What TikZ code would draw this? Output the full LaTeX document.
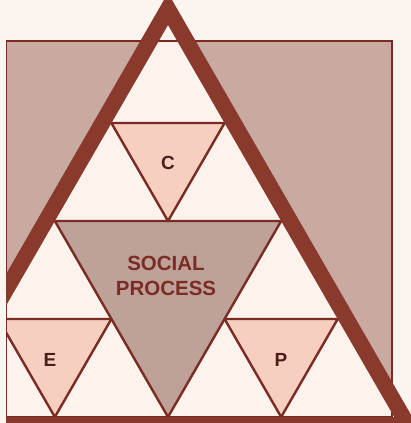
\documentclass[tikz,border=0pt]{standalone}
\usepackage{fontspec}
\newfontfamily\labfont{Liberation Sans}
\definecolor{pagebg}{HTML}{FCF4EE}
\definecolor{panel}{HTML}{C8AAA0}
\definecolor{core}{HTML}{BEA198}
\definecolor{pinkfill}{HTML}{F6CFC0}
\definecolor{creamfill}{HTML}{FDF3EC}
\definecolor{bandcol}{HTML}{8A392D}
\definecolor{thincol}{HTML}{7A2C22}
\definecolor{bigtext}{HTML}{7A2C25}
\definecolor{smalltext}{HTML}{4A1E1A}
\tikzset{
  thinline/.style={draw=thincol, line width=2.4pt, line join=round},
  pinktri/.style={fill=pinkfill},
  biglabel/.style={text=bigtext, align=center, font=\labfont\bfseries\fontsize{20.5}{25}\selectfont, inner sep=0pt},
  letter/.style={text=smalltext, font=\labfont\bfseries\fontsize{19}{21}\selectfont, inner sep=0pt}
}
\begin{document}
\begin{tikzpicture}[x=1pt,y=-1pt]
\useasboundingbox (0,0) rectangle (411,423);
\fill[pagebg] (0,0) rectangle (411,423);
% inner triangle corners
\coordinate (A) at (168,25);
\coordinate (L) at (-58.3,417);
\coordinate (R) at (394.3,417);
\coordinate (mAL) at (54.85,221);
\coordinate (mAR) at (281.15,221);
\coordinate (mLR) at (168,417);
\coordinate (mC) at (168,221);
\coordinate (c1) at (111.4,123);
\coordinate (c2) at (224.6,123);
\coordinate (e1) at (-1.7,319);
\coordinate (e2) at (111.4,319);
\coordinate (e3) at (54.85,417);
\coordinate (p1) at (224.6,319);
\coordinate (p2) at (337.7,319);
\coordinate (p3) at (281.15,417);
% outer triangle corners
\coordinate (OA) at (168,-7);
\coordinate (OL) at (-85.5,433);
\coordinate (OR) at (421.5,433);
\begin{scope}
\clip (6,-20) rectangle (430,440);
\fill[panel] (6,41) rectangle (392,417);
\fill[creamfill] (A) -- (L) -- (R) -- cycle;
\fill[core] (mAL) -- (mAR) -- (mLR) -- cycle;
\fill[pinktri] (c1) -- (c2) -- (mC) -- cycle;
\fill[pinktri] (e1) -- (e2) -- (e3) -- cycle;
\fill[pinktri] (p1) -- (p2) -- (p3) -- cycle;
\draw[thinline] (mAL) -- (mAR) -- (mLR) -- cycle;
\draw[thinline] (c1) -- (c2) -- (mC) -- cycle;
\draw[thinline] (e1) -- (e2) -- (e3) -- cycle;
\draw[thinline] (p1) -- (p2) -- (p3) -- cycle;
\draw[thincol, line width=1.3pt] (6,41) rectangle (392,417);
\fill[bandcol, even odd rule] (OA) -- (OL) -- (OR) -- cycle (A) -- (L) -- (R) -- cycle;
\end{scope}
\node[biglabel] (social) at (166,276) {SOCIAL\\PROCESS};
\node[letter] (lc) at (168,163) {C};
\node[letter] (le) at (50,360) {E};
\node[letter] (lp) at (281,360) {P};
\end{tikzpicture}
\end{document}
